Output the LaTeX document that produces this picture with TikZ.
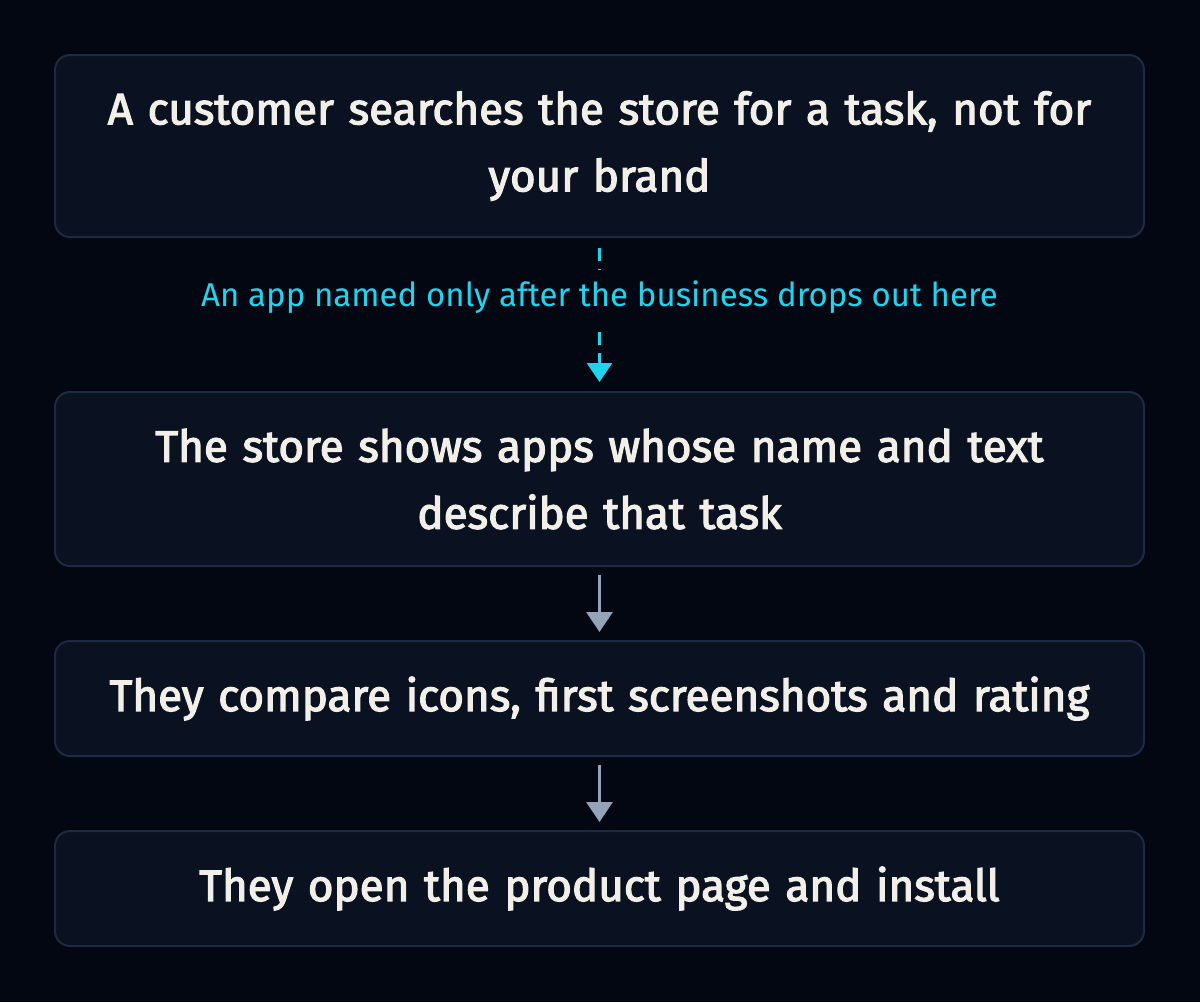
\documentclass[tikz,border=0pt]{standalone}
\usepackage{fontspec}
\setmainfont{Fira Sans}
\usetikzlibrary{arrows.meta,positioning}

\definecolor{bgdark}{HTML}{030712}
\definecolor{boxfill}{HTML}{0A1120}
\definecolor{boxline}{HTML}{1E2A44}
\definecolor{stepwhite}{HTML}{F2EFE9}
\definecolor{flowcyan}{HTML}{22D3EE}
\definecolor{flowgray}{HTML}{94A3B8}

% slightly heavier text: fill and stroke the glyphs
\newcommand{\heavytext}{\special{pdf:literal direct 2 Tr 1.2 w}}
\newcommand{\plaintext}{\special{pdf:literal direct 0 Tr}}

\tikzset{
  stepbox/.style={draw=boxline, line width=2pt, fill=boxfill, rounded corners=15pt,
    minimum width=1089pt, text width=1060pt, align=center, text=stepwhite,
    font=\fontsize{44}{67}\selectfont,
    execute at begin node=\heavytext, execute at end node=\plaintext},
  nextarrow/.style={draw=flowgray, line width=3pt, shorten <=8pt, shorten >=8pt,
    -{Triangle[length=20pt,width=26pt]}},
  droparrow/.style={draw=flowcyan, line width=3pt, dash pattern=on 13pt off 8pt,
    shorten <=10pt, shorten >=9pt, -{Triangle[length=19pt,width=25pt]}},
  droplabel/.style={fill=bgdark, text=flowcyan, inner xsep=2pt, minimum height=54pt,
    font=\fontsize{33}{38}\selectfont}
}

\begin{document}
\begin{tikzpicture}[x=1pt,y=-1pt]
    % Background
    \fill[bgdark] (0,0) rectangle (1200,1002);
    \useasboundingbox (0,0) rectangle (1200,1002);

    % Steps
    \node[stepbox, minimum height=182pt] (search) at (599.5,146)
        {A customer searches the store for a task, not for\\your brand};
    \node[stepbox, minimum height=174pt] (shows) at (599.5,479)
        {The store shows apps whose name and text\\describe that task};
    \node[stepbox, minimum height=115pt] (compare) at (599.5,698.5)
        {They compare icons, first screenshots and rating};
    \node[stepbox, minimum height=115pt] (install) at (599.5,888.5)
        {They open the product page and install};

    % Arrows
    \draw[droparrow] (search.south) -- (shows.north);
    \node[droplabel] (drop) at (599.5,297)
        {An app named only after the business drops out here};
    \draw[nextarrow] (shows.south) -- (compare.north);
    \draw[nextarrow] (compare.south) -- (install.north);

\end{tikzpicture}
\end{document}
